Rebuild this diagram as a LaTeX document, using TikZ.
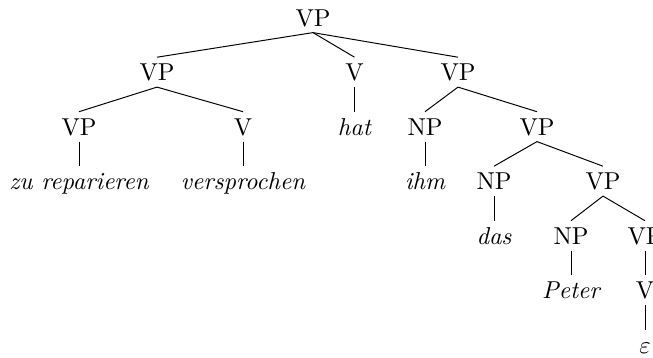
\documentclass[tikz,border=0pt]{standalone}
\usepackage{tikz}

\begin{document}
\begin{tikzpicture}[x=0.409pt, y=-0.409pt,
    cat/.style={inner sep=2.5pt, text height=6.83pt, text depth=0pt, anchor=base},
    word/.style={cat, font=\itshape}
]
\clip (0,0) rectangle (653,357);
% categories
\node[cat] (vp)   at (313,26)    {VP};
\node[cat] (vpA)  at (157,80.5)  {VP};
\node[cat] (vA)   at (354.5,80.5) {V};
\node[cat] (vpB)  at (458,80.5)  {VP};
\node[cat] (vpC)  at (79,135)    {VP};
\node[cat] (vC)   at (243,135)   {V};
\node[cat] (npA)  at (425,135)   {NP};
\node[cat] (vpD)  at (537,135)   {VP};
\node[cat] (npB)  at (494,189.5) {NP};
\node[cat] (vpE)  at (603,189.5) {VP};
\node[cat] (npC)  at (571,244)   {NP};
\node[cat] (vpF)  at (645,244)   {VP};
\node[cat] (vD)   at (645,298.5) {V};
% words
\node[word] (hat)   at (354.5,135) {hat};
\node[word] (zu)    at (79,189.5)  {zu reparieren};
\node[word] (vers)  at (243,189.5) {versprochen};
\node[word] (ihm)   at (425,189.5) {ihm};
\node[word] (das)   at (494,244)   {das};
\node[word] (peter) at (571,298.5) {Peter};
\node[word] (eps)   at (645,353)   {$\varepsilon$};
% branches
\foreach \a/\b in {vp/vpA, vp/vA, vp/vpB, vpA/vpC, vpA/vC, vA/hat,
                   vpB/npA, vpB/vpD, vpC/zu, vC/vers, npA/ihm,
                   vpD/npB, vpD/vpE, npB/das, vpE/npC, vpE/vpF,
                   npC/peter, vpF/vD, vD/eps}
    \draw (\a.south) -- (\b.north);
\end{tikzpicture}
\end{document}
